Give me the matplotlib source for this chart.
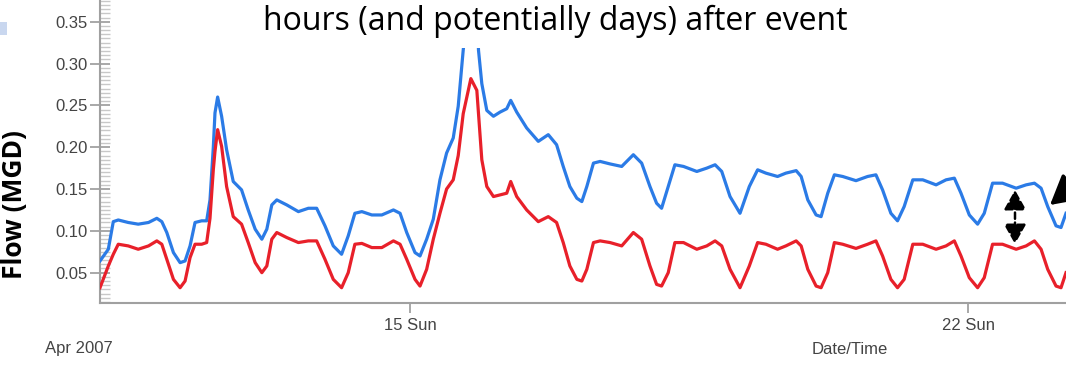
import matplotlib
matplotlib.use("Agg")
import matplotlib.pyplot as plt
import matplotlib.dates as mdates
from matplotlib.patches import Rectangle
import pandas as pd

# hours since 2007-04-11 00:00
hours = [2.7, 5.2, 6.7, 8.2, 11.2, 14.2, 17.3, 19.8, 21.3, 22.8, 24.8, 26.8, 28.3, 29.8,
         31.3, 33.3, 34.8, 35.8, 36.8, 37.3, 38.1, 39.3, 40.8, 42.8, 45.3, 47.3, 49.4,
         51.4, 52.9, 54.4, 55.9, 58.9, 62.4, 65.4, 67.9, 70.4, 72.9, 75.4, 77.4, 79.4,
         81.5, 84.5, 87.5, 91.0, 93.0, 95.0, 97.5, 99.0, 101.0, 103.0, 105.0, 107.0,
         109.0, 110.5, 112.0, 114.3, 116.1, 116.6, 117.6, 119.1, 121.1, 123.1, 125.1,
         126.3, 128.1, 131.1, 134.6, 137.6, 140.1, 142.1, 144.1, 146.2, 147.7, 149.2,
         151.2, 153.2, 156.2, 159.7, 163.2, 165.7, 168.2, 170.2, 171.7, 173.7, 175.7,
         178.3, 182.3, 185.3, 187.8, 189.8, 192.3, 195.3, 198.1, 200.6, 203.1, 206.6,
         209.1, 212.2, 213.7, 215.7, 218.2, 219.7, 221.7, 223.7, 226.2, 230.2, 233.7,
         236.2, 238.2, 240.7, 242.7, 244.7, 247.3, 250.3, 254.3, 257.3, 259.8, 261.8,
         264.3, 266.8, 268.8, 271.3, 274.3, 278.4, 281.4, 283.9, 285.9, 287.9, 290.4,
         291.9, 293.4]

flow_blue = [0.064, 0.078, 0.111, 0.113, 0.110, 0.108, 0.110, 0.115, 0.111, 0.098, 0.074,
             0.062, 0.064, 0.082, 0.110, 0.112, 0.112, 0.137, 0.200, 0.241, 0.260, 0.237,
             0.197, 0.159, 0.149, 0.125, 0.102, 0.090, 0.102, 0.131, 0.137, 0.131, 0.123,
             0.127, 0.127, 0.106, 0.082, 0.072, 0.094, 0.121, 0.123, 0.119, 0.119, 0.125,
             0.121, 0.098, 0.074, 0.070, 0.090, 0.114, 0.161, 0.193, 0.211, 0.249, 0.316,
             0.400, 0.370, 0.316, 0.276, 0.244, 0.237, 0.242, 0.246, 0.256, 0.242, 0.223,
             0.207, 0.215, 0.203, 0.177, 0.153, 0.139, 0.135, 0.153, 0.181, 0.183, 0.180,
             0.177, 0.191, 0.181, 0.153, 0.133, 0.127, 0.153, 0.179, 0.177, 0.171, 0.175,
             0.179, 0.171, 0.141, 0.121, 0.153, 0.173, 0.169, 0.165, 0.169, 0.172, 0.165,
             0.137, 0.119, 0.117, 0.145, 0.167, 0.165, 0.160, 0.165, 0.167, 0.149, 0.121,
             0.112, 0.129, 0.161, 0.161, 0.155, 0.161, 0.163, 0.145, 0.119, 0.108, 0.121,
             0.157, 0.157, 0.151, 0.155, 0.157, 0.151, 0.129, 0.106, 0.104, 0.121]

flow_red = [0.032, 0.058, 0.072, 0.084, 0.082, 0.078, 0.082, 0.088, 0.084, 0.066, 0.042,
            0.032, 0.040, 0.068, 0.084, 0.084, 0.086, 0.115, 0.173, 0.195, 0.221, 0.201,
            0.153, 0.117, 0.108, 0.086, 0.062, 0.050, 0.058, 0.090, 0.098, 0.092, 0.086,
            0.088, 0.088, 0.066, 0.042, 0.032, 0.050, 0.084, 0.085, 0.080, 0.080, 0.088,
            0.084, 0.066, 0.042, 0.034, 0.054, 0.090, 0.121, 0.150, 0.161, 0.190, 0.240,
            0.282, 0.268, 0.240, 0.185, 0.153, 0.141, 0.143, 0.145, 0.159, 0.141, 0.125,
            0.111, 0.117, 0.110, 0.086, 0.058, 0.042, 0.040, 0.054, 0.086, 0.088, 0.086,
            0.082, 0.098, 0.090, 0.058, 0.036, 0.034, 0.050, 0.086, 0.086, 0.078, 0.082,
            0.088, 0.082, 0.054, 0.032, 0.058, 0.086, 0.084, 0.078, 0.082, 0.088, 0.082,
            0.054, 0.034, 0.032, 0.050, 0.086, 0.084, 0.079, 0.084, 0.088, 0.070, 0.042,
            0.032, 0.042, 0.084, 0.084, 0.078, 0.082, 0.088, 0.070, 0.044, 0.032, 0.044,
            0.084, 0.084, 0.078, 0.082, 0.088, 0.078, 0.054, 0.034, 0.032, 0.050]

times = pd.Timestamp("2007-04-11") + pd.to_timedelta(hours, unit="h")

fig = plt.figure(figsize=(10.66, 3.68), dpi=100)
ax = fig.add_axes([100 / 1066, 65.3 / 368, 1 - 100 / 1066, 1 - 65.3 / 368])

ax.plot(times, flow_blue, color="#2b7be6", lw=2.3, zorder=3)
ax.plot(times, flow_red, color="#e8202a", lw=2.3, zorder=3)

ax.set_xlim(times[0], times[-1])
ax.set_ylim(0.0141, 0.376)

ax.set_yticks([0.05, 0.10, 0.15, 0.20, 0.25, 0.30, 0.35])
ax.yaxis.set_major_formatter(matplotlib.ticker.FormatStrFormatter("%.2f"))
ax.yaxis.set_minor_locator(matplotlib.ticker.MultipleLocator(0.005))
ax.xaxis.set_major_locator(mdates.DayLocator(bymonthday=[15, 22]))
ax.xaxis.set_major_formatter(mdates.DateFormatter("%d %a"))

tick_font = dict(family="Liberation Sans", size=12, color="#444444")
for lab in ax.get_yticklabels() + ax.get_xticklabels():
    lab.set_fontfamily("Liberation Sans")
    lab.set_fontsize(12)
    lab.set_color("#444444")

ax.tick_params(axis="y", which="major", direction="inout", length=14, width=1.2,
               color="#999999", pad=2)
ax.tick_params(axis="y", which="minor", direction="in", length=7, width=1,
               color="#c8c8c8")
ax.tick_params(axis="x", which="major", direction="out", length=7, width=1.2,
               color="#999999", pad=4)

for side in ["top", "right"]:
    ax.spines[side].set_visible(False)
for side in ["left", "bottom"]:
    ax.spines[side].set_color("#a0a0a0")
    ax.spines[side].set_linewidth(1.5)

fig.text(45 / 1066, 1 - 349 / 368, "Apr 2007", ha="left", va="center", **tick_font)
fig.text(850 / 1066, 1 - 349 / 368, "Date/Time", ha="center", va="center", **tick_font)

fig.text(15 / 1066, 1 - 205 / 368, "Flow (MGD)", rotation=90, ha="center", va="center",
         family="Open Sans", fontweight="bold", fontsize=19, color="black")

# white text box of the slide covering the top of the plot
fig.add_artist(Rectangle((230 / 1066, 1 - 48 / 368), 680 / 1066, 48 / 368,
                         transform=fig.transFigure, facecolor="white",
                         edgecolor="none", zorder=5))
fig.text(555 / 1066, 1 - 30 / 368, "hours (and potentially days) after event",
         ha="center", va="baseline", family="Open Sans", fontsize=23, color="black",
         zorder=6)

# small slide decoration at the top left
fig.add_artist(Rectangle((0, 1 - 35 / 368), 7 / 1066, 13 / 368,
                         transform=fig.transFigure, facecolor="#c9d7ef",
                         edgecolor="none", zorder=5))

# dashed double arrow between the two curves
ax.annotate("", xy=(1015 / 1066, 1 - 244 / 368), xytext=(1015 / 1066, 1 - 190 / 368),
            xycoords="figure fraction", textcoords="figure fraction",
            arrowprops=dict(arrowstyle="<|-|>,head_length=0.8,head_width=0.45",
                            linestyle=(0, (2.5, 1.5)), lw=1.8, color="black",
                            mutation_scale=15, shrinkA=0, shrinkB=0))
# arrow coming from the right edge
ax.annotate("", xy=(1050 / 1066, 1 - 205 / 368), xytext=(1095 / 1066, 1 - 168 / 368),
            xycoords="figure fraction", textcoords="figure fraction",
            annotation_clip=False,
            arrowprops=dict(arrowstyle="-|>,head_length=0.9,head_width=0.5",
                            lw=2.5, color="black", mutation_scale=20,
                            shrinkA=0, shrinkB=0))

fig.savefig("out.png", dpi=100)
